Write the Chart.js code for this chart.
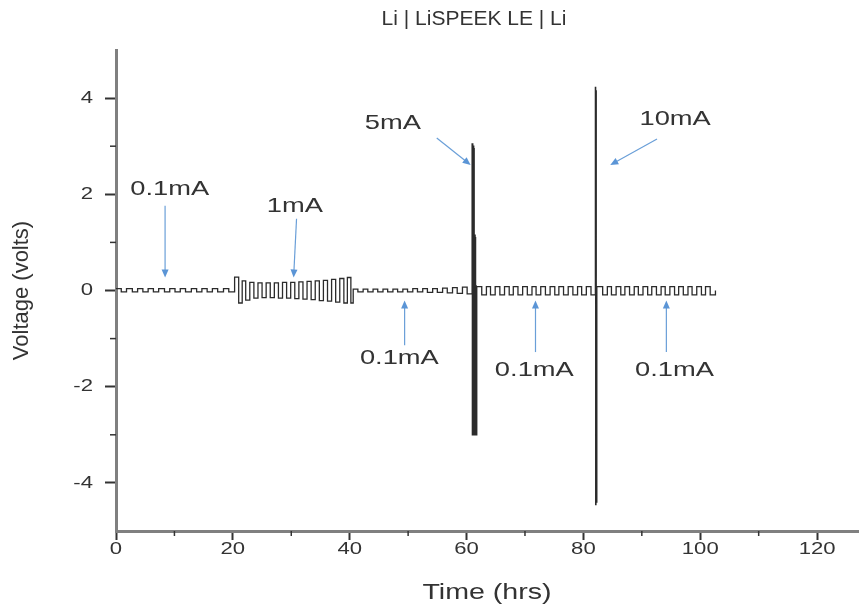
<!DOCTYPE html>
<html>
<head>
<meta charset="utf-8">
<title>Li | LiSPEEK LE | Li</title>
<script src="https://cdn.jsdelivr.net/npm/chart.js@4.4.0/dist/chart.umd.min.js"></script>
<style>
  html, body { margin: 0; padding: 0; background: #fff; }
  #wrap { width: 859px; height: 611px; position: relative; }
</style>
</head>
<body>
<div id="wrap"><canvas id="cycling"></canvas></div>
<script>
// Each pair: time a voltage level starts (hrs) and the level (V).
// 0.1 mA, first block
const hours01a = [0, 0.9, 1.8, 2.8, 3.7, 4.6, 5.5, 6.4, 7.3, 8.3, 9.2, 10.1, 11.0, 11.9, 12.9, 13.8, 14.7, 15.6, 16.5, 17.4, 18.4, 19.3];
const volts01a = [0.04, -0.03, 0.04, -0.03, 0.04, -0.03, 0.04, -0.03, 0.04, -0.03, 0.04, -0.03, 0.04, -0.03, 0.04, -0.03, 0.04, -0.03, 0.04, -0.03, 0.04, -0.03];

// 1 mA
const hours1 = [20.3, 21.0, 21.6, 22.2, 22.9, 23.6, 24.3, 25.0, 25.7, 26.4, 27.1, 27.8, 28.5, 29.2, 29.9, 30.6, 31.3, 32.0, 32.7, 33.4, 34.1, 34.8, 35.5, 36.2, 36.9, 37.6, 38.3, 39.0, 39.6, 40.2];
const volts1 = [0.28, -0.26, 0.2, -0.2, 0.17, -0.16, 0.16, -0.15, 0.16, -0.15, 0.16, -0.16, 0.17, -0.16, 0.17, -0.17, 0.18, -0.18, 0.19, -0.19, 0.2, -0.21, 0.21, -0.22, 0.23, -0.24, 0.25, -0.26, 0.27, -0.26];

// 0.1 mA, second block
const hours01b = [40.6, 41.4, 42.3, 43.1, 44.0, 44.8, 45.7, 46.5, 47.4, 48.2, 49.1, 49.9, 50.8, 51.6, 52.5, 53.3, 54.2, 55.0, 55.9, 56.7, 57.6, 58.4, 59.3, 60.1];
const volts01b = [0.03, -0.03, 0.03, -0.03, 0.03, -0.03, 0.03, -0.03, 0.03, -0.03, 0.03, -0.03, 0.04, -0.03, 0.04, -0.04, 0.04, -0.04, 0.05, -0.05, 0.06, -0.06, 0.07, -0.07];

// 5 mA
const hours5 = [60.95, 60.99, 61.03, 61.07, 61.11, 61.15, 61.19, 61.23, 61.27, 61.31, 61.35, 61.39, 61.43, 61.47, 61.51, 61.55, 61.59, 61.63, 61.67, 61.7];
const volts5 = [3.05, -3.0, 3.05, -3.0, 3.0, -3.0, 3.0, -3.0, 2.95, -3.0, 1.15, -3.0, 1.15, -3.0, 1.1, -3.0, 0.1, -3.0, 0.05, -3.0];

// 0.1 mA, third block
const hours01c = [61.75, 62.6, 63.4, 64.1, 64.9, 65.7, 66.5, 67.3, 68.0, 68.8, 69.6, 70.4, 71.2, 71.9, 72.7, 73.5, 74.3, 75.1, 75.8, 76.6, 77.4, 78.2, 79.0, 79.7, 80.5, 81.3];
const volts01c = [0.08, -0.09, 0.08, -0.09, 0.08, -0.09, 0.08, -0.09, 0.08, -0.09, 0.08, -0.09, 0.08, -0.09, 0.08, -0.09, 0.08, -0.09, 0.08, -0.09, 0.08, -0.09, 0.08, -0.09, 0.08, -0.09];

// 10 mA
const hours10 = [82.05, 82.1, 82.15, 82.2];
const volts10 = [4.22, -4.45, 4.15, -4.4];

// 0.1 mA, last block
const hours01d = [82.3, 83.3, 84.1, 84.8, 85.6, 86.4, 87.1, 87.9, 88.7, 89.4, 90.2, 91.0, 91.7, 92.5, 93.3, 94.0, 94.8, 95.6, 96.3, 97.1, 97.9, 98.6, 99.4, 100.2, 100.9, 101.7, 102.6];
const volts01d = [0.08, -0.09, 0.08, -0.09, 0.08, -0.09, 0.08, -0.09, 0.08, -0.09, 0.08, -0.09, 0.08, -0.09, 0.08, -0.09, 0.08, -0.09, 0.08, -0.09, 0.08, -0.09, 0.08, -0.09, 0.08, -0.09, 0.0];

const xTicks = [0, 20, 40, 60, 80, 100, 120];
const xMinorTicks = [10, 30, 50, 70, 90, 110];
const yTicks = [-4, -2, 0, 2, 4];
const yMinorTicks = [-3, -1, 1, 3];

// current labels: text, label centre, arrow tail and head (hrs, V)
const currentNotes = [
    { text: '0.1mA', at: [9.2, 2.11], from: [8.4, 1.76], to: [8.4, 0.27] },
    { text: '1mA', at: [30.6, 1.76], from: [30.9, 1.49], to: [30.4, 0.27] },
    { text: '0.1mA', at: [48.5, -1.41], from: [49.4, -1.14], to: [49.4, -0.21] },
    { text: '0.1mA', at: [71.6, -1.66], from: [71.8, -1.28], to: [71.8, -0.21] },
    { text: '0.1mA', at: [95.6, -1.66], from: [94.2, -1.28], to: [94.2, -0.21] },
    { text: '5mA', at: [47.4, 3.48], from: [54.9, 3.17], to: [60.7, 2.61] },
    { text: '10mA', at: [95.7, 3.56], from: [92.6, 3.15], to: [84.6, 2.61] }
];

const blocks = [
    [hours01a, volts01a], [hours1, volts1], [hours01b, volts01b], [hours5, volts5],
    [hours01c, volts01c], [hours10, volts10], [hours01d, volts01d]
];
const trace = [];
blocks.forEach(([h, v]) => h.forEach((t, i) => trace.push({ x: t, y: v[i] })));

const FONT = '"Liberation Sans", Arial, sans-serif';
const INK = '#333';
const WIDE = 1.3;   // horizontal stretch of the lettering

function wideText(ctx, text, x, y, size, align, stretch = WIDE) {
    ctx.save();
    ctx.font = size + 'px ' + FONT;
    ctx.fillStyle = INK;
    ctx.textAlign = align;
    ctx.textBaseline = 'middle';
    ctx.translate(x, y);
    ctx.scale(stretch, 1);
    ctx.fillText(text, 0, 0);
    ctx.restore();
}

const annotate = {
    id: 'annotate',
    afterDraw(chart) {
        const { ctx, scales: { x, y } } = chart;
        ctx.save();

        // minor ticks, pointing out of the plot
        ctx.strokeStyle = INK;
        ctx.lineWidth = 1.5;
        xMinorTicks.forEach(v => {
            const px = x.getPixelForValue(v);
            ctx.beginPath();
            ctx.moveTo(px, y.bottom);
            ctx.lineTo(px, y.bottom + 5);
            ctx.stroke();
        });
        yMinorTicks.forEach(v => {
            const py = y.getPixelForValue(v);
            ctx.beginPath();
            ctx.moveTo(x.left, py);
            ctx.lineTo(x.left - 6, py);
            ctx.stroke();
        });

        // tick labels
        xTicks.forEach(v => wideText(ctx, String(v), x.getPixelForValue(v), y.bottom + 18, 17, 'center'));
        yTicks.forEach(v => wideText(ctx, String(v), x.left - 23, y.getPixelForValue(v), 17, 'right'));

        // axis titles
        wideText(ctx, 'Time (hrs)', (x.left + x.right) / 2, 593, 22, 'center');
        ctx.save();
        ctx.font = '22px ' + FONT;
        ctx.fillStyle = INK;
        ctx.textAlign = 'center';
        ctx.textBaseline = 'middle';
        ctx.translate(22, (y.top + y.bottom) / 2);
        ctx.rotate(-Math.PI / 2);
        ctx.fillText('Voltage (volts)', 0, 0);
        ctx.restore();

        // blue arrows and current labels
        currentNotes.forEach(n => {
            const x0 = x.getPixelForValue(n.from[0]), y0 = y.getPixelForValue(n.from[1]);
            const x1 = x.getPixelForValue(n.to[0]), y1 = y.getPixelForValue(n.to[1]);
            const ang = Math.atan2(y1 - y0, x1 - x0);
            const len = 8, half = 3.5;
            ctx.strokeStyle = '#6a9fd8';
            ctx.fillStyle = '#5b95d6';
            ctx.lineWidth = 1.2;
            ctx.beginPath();
            ctx.moveTo(x0, y0);
            ctx.lineTo(x1 - Math.cos(ang) * len * 0.7, y1 - Math.sin(ang) * len * 0.7);
            ctx.stroke();
            ctx.beginPath();
            ctx.moveTo(x1, y1);
            ctx.lineTo(x1 - Math.cos(ang) * len + Math.sin(ang) * half, y1 - Math.sin(ang) * len - Math.cos(ang) * half);
            ctx.lineTo(x1 - Math.cos(ang) * len - Math.sin(ang) * half, y1 - Math.sin(ang) * len + Math.cos(ang) * half);
            ctx.closePath();
            ctx.fill();

            wideText(ctx, n.text, x.getPixelForValue(n.at[0]), y.getPixelForValue(n.at[1]), 21, 'center');
        });

        // chart heading
        wideText(ctx, 'Li | LiSPEEK LE | Li', 474, 19, 20, 'center', 1.05);
        ctx.restore();
    }
};

new Chart(document.getElementById('cycling'), {
    type: 'scatter',
    data: {
        datasets: [{
            label: 'Voltage',
            data: trace,
            showLine: true,
            stepped: 'before',
            borderColor: '#2b2b2b',
            borderWidth: 1.3,
            pointRadius: 0,
            fill: false
        }]
    },
    options: {
        responsive: true,
        maintainAspectRatio: false,
        animation: false,
        layout: { padding: { top: 50, right: 1, left: 0, bottom: 0 } },
        plugins: {
            legend: { display: false },
            tooltip: { enabled: false }
        },
        scales: {
            x: {
                type: 'linear',
                min: 0,
                max: 127,
                afterBuildTicks: scale => { scale.ticks = xTicks.map(v => ({ value: v })); },
                afterFit: scale => { scale.height = 80; },
                border: { display: true, color: '#808080', width: 3 },
                grid: { drawOnChartArea: false, drawTicks: true, tickLength: 9, tickWidth: 2, tickColor: INK },
                ticks: { display: false }
            },
            y: {
                type: 'linear',
                min: -5,
                max: 5,
                afterBuildTicks: scale => { scale.ticks = yTicks.map(v => ({ value: v })); },
                afterFit: scale => { scale.width = 116; },
                border: { display: true, color: '#808080', width: 3 },
                grid: { drawOnChartArea: false, drawTicks: true, tickLength: 11, tickWidth: 2, tickColor: INK },
                ticks: { display: false }
            }
        }
    },
    plugins: [annotate]
});
</script>
</body>
</html>
